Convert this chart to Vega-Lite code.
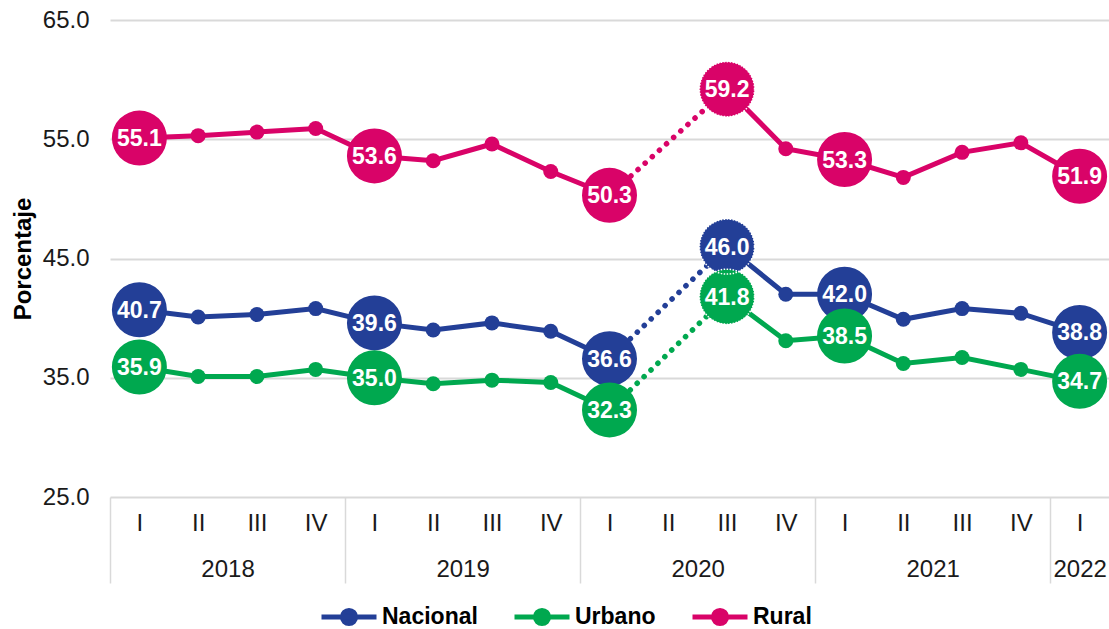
{
  "$schema": "https://vega.github.io/schema/vega-lite/v6.json",
  "width": 999,
  "height": 477,
  "autosize": {"type": "none"},
  "padding": {"left": 110, "top": 20, "right": 0, "bottom": 132},
  "config": {
    "font": "Liberation Sans",
    "view": {"stroke": null},
    "axis": {"labelColor": "#1a1a1a", "labelFontSize": 24, "labelFont": "Liberation Sans"}
  },
  "data": {
    "values": [
      {"periodo": "2018-I", "t": 0, "serie": "Nacional", "v": 40.7},
      {"periodo": "2018-II", "t": 1, "serie": "Nacional", "v": 40.1},
      {"periodo": "2018-III", "t": 2, "serie": "Nacional", "v": 40.3},
      {"periodo": "2018-IV", "t": 3, "serie": "Nacional", "v": 40.8},
      {"periodo": "2019-I", "t": 4, "serie": "Nacional", "v": 39.6},
      {"periodo": "2019-II", "t": 5, "serie": "Nacional", "v": 39.0},
      {"periodo": "2019-III", "t": 6, "serie": "Nacional", "v": 39.6},
      {"periodo": "2019-IV", "t": 7, "serie": "Nacional", "v": 38.9},
      {"periodo": "2020-I", "t": 8, "serie": "Nacional", "v": 36.6},
      {"periodo": "2020-III", "t": 10, "serie": "Nacional", "v": 46.0},
      {"periodo": "2020-IV", "t": 11, "serie": "Nacional", "v": 42.0},
      {"periodo": "2021-I", "t": 12, "serie": "Nacional", "v": 42.0},
      {"periodo": "2021-II", "t": 13, "serie": "Nacional", "v": 39.9},
      {"periodo": "2021-III", "t": 14, "serie": "Nacional", "v": 40.8},
      {"periodo": "2021-IV", "t": 15, "serie": "Nacional", "v": 40.4},
      {"periodo": "2022-I", "t": 16, "serie": "Nacional", "v": 38.8},
      {"periodo": "2018-I", "t": 0, "serie": "Urbano", "v": 35.9},
      {"periodo": "2018-II", "t": 1, "serie": "Urbano", "v": 35.1},
      {"periodo": "2018-III", "t": 2, "serie": "Urbano", "v": 35.1},
      {"periodo": "2018-IV", "t": 3, "serie": "Urbano", "v": 35.7},
      {"periodo": "2019-I", "t": 4, "serie": "Urbano", "v": 35.0},
      {"periodo": "2019-II", "t": 5, "serie": "Urbano", "v": 34.5},
      {"periodo": "2019-III", "t": 6, "serie": "Urbano", "v": 34.8},
      {"periodo": "2019-IV", "t": 7, "serie": "Urbano", "v": 34.6},
      {"periodo": "2020-I", "t": 8, "serie": "Urbano", "v": 32.3},
      {"periodo": "2020-III", "t": 10, "serie": "Urbano", "v": 41.8},
      {"periodo": "2020-IV", "t": 11, "serie": "Urbano", "v": 38.1},
      {"periodo": "2021-I", "t": 12, "serie": "Urbano", "v": 38.5},
      {"periodo": "2021-II", "t": 13, "serie": "Urbano", "v": 36.2},
      {"periodo": "2021-III", "t": 14, "serie": "Urbano", "v": 36.7},
      {"periodo": "2021-IV", "t": 15, "serie": "Urbano", "v": 35.7},
      {"periodo": "2022-I", "t": 16, "serie": "Urbano", "v": 34.7},
      {"periodo": "2018-I", "t": 0, "serie": "Rural", "v": 55.1},
      {"periodo": "2018-II", "t": 1, "serie": "Rural", "v": 55.3},
      {"periodo": "2018-III", "t": 2, "serie": "Rural", "v": 55.6},
      {"periodo": "2018-IV", "t": 3, "serie": "Rural", "v": 55.9},
      {"periodo": "2019-I", "t": 4, "serie": "Rural", "v": 53.6},
      {"periodo": "2019-II", "t": 5, "serie": "Rural", "v": 53.2},
      {"periodo": "2019-III", "t": 6, "serie": "Rural", "v": 54.6},
      {"periodo": "2019-IV", "t": 7, "serie": "Rural", "v": 52.3},
      {"periodo": "2020-I", "t": 8, "serie": "Rural", "v": 50.3},
      {"periodo": "2020-III", "t": 10, "serie": "Rural", "v": 59.2},
      {"periodo": "2020-IV", "t": 11, "serie": "Rural", "v": 54.2},
      {"periodo": "2021-I", "t": 12, "serie": "Rural", "v": 53.3},
      {"periodo": "2021-II", "t": 13, "serie": "Rural", "v": 51.8},
      {"periodo": "2021-III", "t": 14, "serie": "Rural", "v": 53.9},
      {"periodo": "2021-IV", "t": 15, "serie": "Rural", "v": 54.7},
      {"periodo": "2022-I", "t": 16, "serie": "Rural", "v": 51.9}
    ]
  },
  "encoding": {
    "y": {
      "field": "v", "type": "quantitative",
      "scale": {"domain": [25, 65], "nice": false, "zero": false},
      "axis": {
        "title": "Porcentaje", "titleFontSize": 24, "titleFontWeight": "bold", "titleColor": "#000", "titlePadding": 7,
        "values": [25, 35, 45, 55, 65], "format": ".1f",
        "grid": true, "gridColor": "#d9d9d9", "gridWidth": 2,
        "domain": false, "ticks": false, "labelPadding": 21
      }
    },
    "color": {
      "field": "serie", "type": "nominal",
      "scale": {"domain": ["Nacional", "Urbano", "Rural"], "range": ["#233F97", "#00A84F", "#D90368"]},
      "legend": {
        "title": null, "orient": "none", "direction": "horizontal",
        "legendX": 209, "legendY": 567, "gridAlign": "none",
        "symbolType": "M-1,0L1,0M0.24,0A0.24,0.24,0,1,1,-0.24,0A0.24,0.24,0,1,1,0.24,0",
        "symbolSize": 3025, "symbolStrokeWidth": 5,
        "labelFontSize": 23, "labelFontWeight": "bold", "labelColor": "#000",
        "labelOffset": 3, "columnPadding": 26,
        "encode": {"symbols": {"update": {"fill": {"scale": "color", "field": "value"}, "stroke": {"scale": "color", "field": "value"}, "fillOpacity": {"value": 1}}}}
      }
    }
  },
  "resolve": {"axis": {"x": "independent"}},
  "layer": [
    {
      "transform": [{"calculate": "datum.t <= 8 ? 'a' : 'b'", "as": "tramo"}],
      "mark": {"type": "line", "strokeWidth": 5},
      "encoding": {
        "x": {
          "field": "t", "type": "quantitative",
          "scale": {"domain": [-0.5, 16.5], "nice": false, "zero": false},
          "axis": {
            "orient": "bottom", "title": null, "values": [0,1,2,3,4,5,6,7,8,9,10,11,12,13,14,15,16],
            "labelExpr": "['I','II','III','IV'][datum.value % 4]",
            "grid": false, "ticks": false, "domain": false, "labelPadding": 14, "labelOverlap": false
          }
        },
        "detail": {"field": "tramo"}
      }
    },
    {
      "transform": [{"filter": "datum.t == 8 || datum.t == 10"}],
      "mark": {"type": "line", "strokeWidth": 5.5, "strokeDash": [0.1, 9.5], "strokeCap": "round"},
      "encoding": {
        "x": {
          "field": "t", "type": "quantitative",
          "axis": {
            "orient": "bottom", "title": null, "values": [1.5, 5.5, 9.5, 13.5, 16],
            "labelExpr": "datum.value == 16 ? '2022' : toString(2018 + floor(datum.value / 4))",
            "grid": false, "ticks": false, "domain": false, "labelPadding": 60, "labelOverlap": false, "labelBound": false
          }
        }
      }
    },
    {
      "mark": {"type": "point", "filled": true, "opacity": 1, "size": 225},
      "encoding": {
        "x": {
          "field": "t", "type": "quantitative",
          "axis": {
            "orient": "bottom", "title": null, "values": [-0.5, 3.5, 7.5, 11.5, 15.5],
            "labels": false, "grid": false, "domain": false,
            "ticks": true, "tickSize": 86, "tickColor": "#d9d9d9", "tickWidth": 1.5
          }
        }
      }
    },
    {
      "transform": [{"filter": "datum.t % 4 == 0 || datum.t == 10"}],
      "mark": {"type": "point", "filled": true, "opacity": 1, "size": 3025},
      "encoding": {"x": {"field": "t", "type": "quantitative", "axis": null}}
    },
    {
      "transform": [{"filter": "datum.t == 10"}],
      "mark": {"type": "point", "filled": false, "opacity": 1, "size": 3025, "stroke": "white", "strokeWidth": 1.5, "strokeDash": [1.5, 1.5]},
      "encoding": {"x": {"field": "t", "type": "quantitative", "axis": null}, "color": {"value": "white"}}
    },
    {
      "transform": [{"filter": "datum.t % 4 == 0 || datum.t == 10"}],
      "mark": {"type": "text", "fontSize": 23, "fontWeight": "bold", "align": "center", "baseline": "middle", "dy": 1},
      "encoding": {
        "x": {"field": "t", "type": "quantitative", "axis": null},
        "text": {"field": "v", "type": "quantitative", "format": ".1f"},
        "color": {"value": "white"}
      }
    }
  ]
}
